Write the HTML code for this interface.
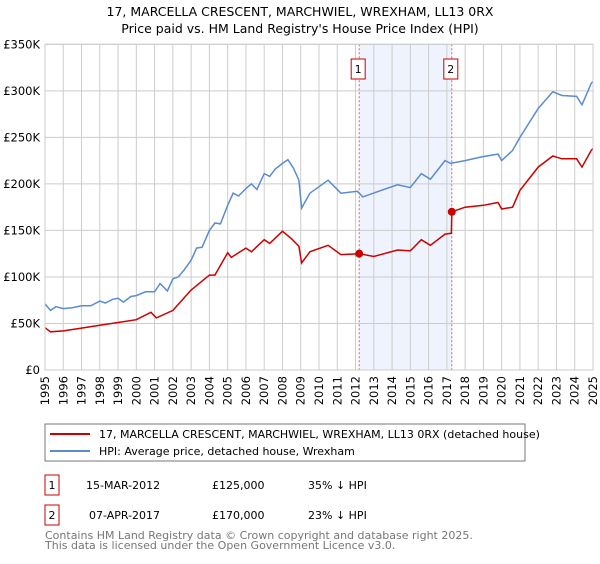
<!DOCTYPE html>
<html><head><meta charset="utf-8"><style>
body{margin:0;background:#fff;font-family:"DejaVu Sans","Liberation Sans",sans-serif;}
svg text{font-family:"DejaVu Sans","Liberation Sans",sans-serif;}
</style></head><body>
<svg id="c" width="600" height="560" xmlns="http://www.w3.org/2000/svg">
<text x="300" y="16" text-anchor="middle" font-size="12.5" fill="#000">17, MARCELLA CRESCENT, MARCHWIEL, WREXHAM, LL13 0RX</text>
<text x="300" y="33" text-anchor="middle" font-size="12.5" fill="#000">Price paid vs. HM Land Registry's House Price Index (HPI)</text>
<g id="grid"></g><g id="plot"></g><g id="axes"></g>
<rect x="45" y="424" width="480" height="37" fill="#fff" stroke="#777"/>
<line x1="50" y1="434" x2="90" y2="434" stroke="#cc0000" stroke-width="2"/>
<text x="99" y="438" font-size="11">17, MARCELLA CRESCENT, MARCHWIEL, WREXHAM, LL13 0RX (detached house)</text>
<line x1="50" y1="451" x2="90" y2="451" stroke="#5b8bd0" stroke-width="2"/>
<text x="99" y="455" font-size="11">HPI: Average price, detached house, Wrexham</text>
<g font-size="11">
<rect x="45" y="475" width="14" height="20" fill="none" stroke="#cc0000"/>
<text x="52" y="489" text-anchor="middle">1</text>
<text x="86" y="489">15-MAR-2012</text>
<text x="212" y="489">£125,000</text>
<text x="308" y="489">35% ↓ HPI</text>
<rect x="45" y="505" width="14" height="20" fill="none" stroke="#cc0000"/>
<text x="52" y="519" text-anchor="middle">2</text>
<text x="89" y="519">07-APR-2017</text>
<text x="212" y="519">£170,000</text>
<text x="308" y="519">23% ↓ HPI</text>
</g>
<text x="45" y="539" font-size="11" fill="#777">Contains HM Land Registry data © Crown copyright and database right 2025.</text>
<text x="45" y="549" font-size="11" fill="#777">This data is licensed under the Open Government Licence v3.0.</text>
</svg>
<script>
const hpiYears=[1995,1995.3,1995.6,1996,1996.5,1997,1997.5,1998,1998.3,1998.7,1999,1999.3,1999.7,2000,2000.5,2001,2001.3,2001.7,2002,2002.3,2002.6,2003,2003.3,2003.6,2004,2004.3,2004.6,2005,2005.3,2005.6,2006,2006.3,2006.6,2007,2007.3,2007.6,2008,2008.3,2008.6,2008.9,2009.05,2009.5,2010.5,2011.2,2012.1,2012.4,2013.4,2014.3,2015,2015.6,2016.1,2016.9,2017.2,2018,2018.9,2019.8,2020,2020.6,2021,2022,2022.8,2023.3,2024.1,2024.4,2024.9,2025];
const hpiValues=[71,64,68,66,67,69,69,74,72,76,77,73,79,80,84,84,93,85,98,100,107,118,131,132,150,158,157,177,190,187,195,200,194,211,208,216,222,226,217,204,174,190,204,190,192,186,193,199,196,211,205,225,222,225,229,232,225,236,250,281,299,295,294,285,308,310];
const priceYears=[1995,1995.3,1996,1997,1998,1999,2000,2000.8,2001.1,2002,2003,2004,2004.3,2005,2005.2,2006,2006.3,2007,2007.3,2008,2008.5,2008.9,2009.05,2009.5,2010.5,2011.2,2012.2,2013,2014.3,2015,2015.6,2016.1,2016.9,2017.25,2017.27,2018,2019,2019.8,2020,2020.6,2021,2022,2022.8,2023.3,2024.1,2024.4,2024.9,2025];
const priceValues=[45.5,41,42,45,48,51,54,62,56,64,86,102,102,126,121,131,127,140,136,149,141,133,115,127,134,124,125,122,129,128,140,134,146,147,170,175,177,180,173,175,193,218,230,227,227,218,236,238];
const yTicks=[0,50,100,150,200,250,300,350];
const yTickLabels=["£0","£50K","£100K","£150K","£200K","£250K","£300K","£350K"];
const xTicks=[1995,1996,1997,1998,1999,2000,2001,2002,2003,2004,2005,2006,2007,2008,2009,2010,2011,2012,2013,2014,2015,2016,2017,2018,2019,2020,2021,2022,2023,2024,2025];
const saleYears=[2012.2,2017.27];
const saleValues=[125,170];
const saleLabels=["1","2"];
const X0=45,X1=593,Y0=370,Y1=44.3;
const x=y=>X0+(y-1995)/30*(X1-X0);
const yv=v=>Y0-v/350*(Y0-Y1);
const NS="http://www.w3.org/2000/svg";
function mk(p,t,a){const e=document.createElementNS(NS,t);for(const k in a)e.setAttribute(k,a[k]);p.appendChild(e);return e;}
const grid=document.getElementById('grid'),plot=document.getElementById('plot'),axes=document.getElementById('axes');
const shade=mk(grid,'rect',{x:x(saleYears[0]),y:Y1,width:x(saleYears[1])-x(saleYears[0]),height:Y0-Y1,fill:'#eef3fd'});


yTicks.forEach((t,i)=>{
 const l=mk(grid,'line',{x1:X0,x2:X1,y1:yv(t),y2:yv(t),stroke:'#ccc'});
 
 
 const tx=mk(axes,'text',{x:40,y:yv(t)+4,'text-anchor':'end','font-size':'11.5'});
 tx.textContent=yTickLabels[i];
 
 
});
xTicks.forEach(t=>{
 const l=mk(grid,'line',{x1:x(t),x2:x(t),y1:Y1,y2:Y0,stroke:'#ccc'});
 
 
 const tx=mk(axes,'text',{x:0,y:0,'font-size':'11.5','text-anchor':'end',transform:`translate(${x(t)+4},376) rotate(-90)`});
 tx.textContent=t;
 
 
});
const fr=mk(axes,'rect',{x:X0,y:Y1,width:X1-X0,height:Y0-Y1,fill:'none',stroke:'#ccc'});


saleYears.forEach((s,i)=>{
 const l=mk(plot,'line',{x1:x(s),x2:x(s),y1:Y1,y2:Y0,stroke:'#e06060','stroke-dasharray':'2,2'});
 
 
});
function path(xs,vs,col,name){
 const d=xs.map((t,i)=>(i?'L':'M')+x(t).toFixed(1)+','+yv(vs[i]).toFixed(1)).join('');
 const p=mk(plot,'path',{d:d,fill:'none',stroke:col,'stroke-width':1.5});
 
 
}
path(hpiYears,hpiValues,'#5b8bd0','hpi-line');
path(priceYears,priceValues,'#cc0000','price-line');
saleYears.forEach((s,i)=>{
 const c=mk(plot,'circle',{cx:x(s),cy:yv(saleValues[i]),r:4,fill:'#cc0000'});
 
 
 const b=mk(plot,'rect',{x:x(s)-8,y:59,width:14,height:20,fill:'#fff',stroke:'#cc0000'});
 
 
 const t=mk(plot,'text',{x:x(s)-1,y:73,'text-anchor':'middle','font-size':'11'});
 t.textContent=saleLabels[i];
 
 
});
</script>
</body></html>
